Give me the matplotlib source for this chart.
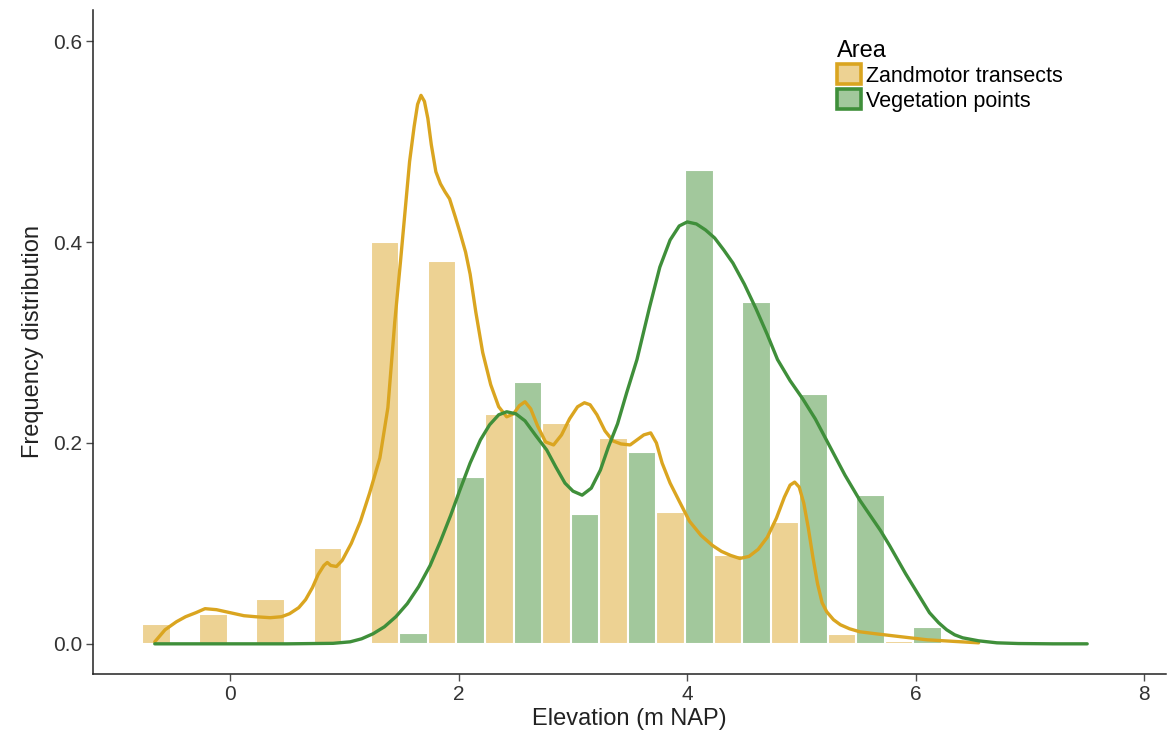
import matplotlib
matplotlib.use("Agg")
import matplotlib.pyplot as plt
from matplotlib.patches import Patch
import numpy as np

plt.rcParams['font.family'] = ['Liberation Sans', 'DejaVu Sans']

# histogram bins (binwidth 0.5), bar pairs dodged within each bin
bin_centers = [-0.52 + 0.5 * k for k in range(14)]
zand_freq = [0.020, 0.030, 0.045, 0.095, 0.400, 0.381, 0.229, 0.220, 0.205,
             0.131, 0.088, 0.121, 0.010, 0.003]
veg_freq = [0.0, 0.0, 0.0, 0.0, 0.011, 0.166, 0.261, 0.129, 0.191,
            0.472, 0.340, 0.249, 0.148, 0.017]

# density curves
zand_x = [-0.66, -0.57, -0.47, -0.39, -0.30, -0.22, -0.12, 0.0, 0.12, 0.22, 0.35,
          0.45, 0.52, 0.60, 0.66, 0.72, 0.77, 0.82, 0.85, 0.88, 0.93, 0.98,
          1.06, 1.14, 1.22, 1.31, 1.38, 1.44, 1.49, 1.53, 1.57, 1.61, 1.64,
          1.67, 1.70, 1.73, 1.76, 1.80, 1.84, 1.88, 1.92, 1.97, 2.01, 2.06,
          2.10, 2.15, 2.21, 2.28, 2.35, 2.42, 2.48, 2.53, 2.58, 2.63, 2.69, 2.76,
          2.83, 2.90, 2.97, 3.04, 3.10, 3.15, 3.21, 3.28, 3.35, 3.42, 3.50,
          3.56, 3.62, 3.68, 3.73, 3.78, 3.85, 3.93, 4.02, 4.12, 4.22, 4.30,
          4.38, 4.46, 4.54, 4.62, 4.70, 4.78, 4.85, 4.90, 4.94, 4.98, 5.02,
          5.06, 5.10, 5.14, 5.18, 5.22, 5.28, 5.34, 5.42, 5.51, 5.65, 5.80,
          5.95, 6.10, 6.25, 6.40, 6.55]
zand_y = [0.002, 0.014, 0.022, 0.027, 0.031, 0.035, 0.034, 0.031, 0.028, 0.027, 0.026,
          0.027, 0.030, 0.036, 0.044, 0.056, 0.069, 0.078, 0.081, 0.078, 0.077, 0.083,
          0.100, 0.122, 0.150, 0.185, 0.235, 0.320, 0.380, 0.430, 0.480, 0.515, 0.537,
          0.546, 0.540, 0.523, 0.497, 0.470, 0.458, 0.450, 0.443, 0.425, 0.410, 0.390,
          0.368, 0.330, 0.290, 0.258, 0.236, 0.226, 0.229, 0.237, 0.241, 0.234, 0.217, 0.201,
          0.198, 0.208, 0.224, 0.236, 0.240, 0.238, 0.228, 0.212, 0.202, 0.199, 0.198,
          0.203, 0.208, 0.210, 0.200, 0.180, 0.160, 0.142, 0.122, 0.108, 0.098, 0.092,
          0.088, 0.085, 0.087, 0.094, 0.106, 0.125, 0.146, 0.158, 0.161, 0.156, 0.140,
          0.115, 0.086, 0.060, 0.041, 0.032, 0.024, 0.019, 0.015, 0.012, 0.010, 0.008,
          0.006, 0.004, 0.003, 0.002, 0.001]

veg_x = [-0.66, 0.5, 0.9, 1.05, 1.15, 1.25, 1.35, 1.45, 1.55, 1.65, 1.75, 1.84,
         1.93, 2.01, 2.10, 2.19, 2.27, 2.35, 2.42, 2.50, 2.58, 2.67, 2.77, 2.85,
         2.93, 3.00, 3.08, 3.16, 3.24, 3.31, 3.39, 3.47, 3.56, 3.67, 3.76, 3.85,
         3.93, 4.00, 4.08, 4.16, 4.24, 4.32, 4.40, 4.50, 4.60, 4.70, 4.79, 4.90,
         5.01, 5.12, 5.25, 5.38, 5.51, 5.60, 5.69, 5.77, 5.84, 5.91, 5.98, 6.05,
         6.12, 6.20, 6.27, 6.34, 6.41, 6.55, 6.71, 6.90, 7.2, 7.5]
veg_y = [0.0, 0.0, 0.0005, 0.002, 0.005, 0.010, 0.017, 0.027, 0.040, 0.057, 0.078, 0.102,
         0.128, 0.153, 0.180, 0.203, 0.218, 0.228, 0.231, 0.229, 0.222, 0.208, 0.193, 0.176,
         0.160, 0.152, 0.148, 0.155, 0.173, 0.196, 0.219, 0.250, 0.283, 0.335, 0.375, 0.402,
         0.416, 0.420, 0.418, 0.412, 0.404, 0.392, 0.379, 0.358, 0.334, 0.308, 0.283, 0.262,
         0.244, 0.224, 0.196, 0.168, 0.143, 0.128, 0.113, 0.098, 0.084, 0.070, 0.057, 0.044,
         0.031, 0.021, 0.014, 0.009, 0.006, 0.003, 0.001, 0.0003, 0.0, 0.0]

zand_line = '#DAA520'
zand_fill = '#EDD293'
veg_line = '#3F8F3A'
veg_fill = '#A2C89C'

fig, ax = plt.subplots(figsize=(11.72, 7.39), dpi=100)
fig.subplots_adjust(left=0.0794, right=0.9949, top=0.9865, bottom=0.0880)

centers = np.array(bin_centers)
ax.bar(centers - 0.125, zand_freq, width=0.25, color=zand_fill, edgecolor='white', linewidth=1.5)
ax.bar(centers + 0.125, veg_freq, width=0.25, color=veg_fill, edgecolor='white', linewidth=1.5)

ax.plot(zand_x, zand_y, color=zand_line, lw=2.4, solid_capstyle='round', solid_joinstyle='round')
ax.plot(veg_x, veg_y, color=veg_line, lw=2.4, solid_capstyle='round', solid_joinstyle='round')

ax.set_xlim(-1.2, 8.19)
ax.set_ylim(-0.030, 0.631)
ax.set_xticks([0, 2, 4, 6, 8])
ax.set_yticks([0.0, 0.2, 0.4, 0.6])
ax.set_yticklabels(['0.0', '0.2', '0.4', '0.6'])
ax.tick_params(axis='both', labelsize=15, colors='#4D4D4D', length=5, width=1.0,
               labelcolor='#333333')
ax.tick_params(axis='x', pad=3)
ax.tick_params(axis='y', pad=3)
for s in ['top', 'right']:
    ax.spines[s].set_visible(False)
for s in ['left', 'bottom']:
    ax.spines[s].set_linewidth(1.1)
    ax.spines[s].set_color('#222222')

ax.set_xlabel('Elevation (m NAP)', fontsize=17, color='#222222', labelpad=3)
ax.set_ylabel('Frequency distribution', fontsize=17, color='#222222', labelpad=6)

handles = [Patch(facecolor=zand_fill, edgecolor=zand_line, linewidth=2.6, label='Zandmotor transects'),
           Patch(facecolor=veg_fill, edgecolor=veg_line, linewidth=2.6, label='Vegetation points')]
leg = ax.legend(handles=handles, title='Area', loc='upper left', bbox_to_anchor=(0.685, 0.968),
                frameon=False, fontsize=15.5, title_fontsize=17, handlelength=1.15,
                handleheight=1.05, handletextpad=0.2, labelspacing=0.12, borderaxespad=0)
leg._legend_box.align = 'left'

fig.savefig('out.png', dpi=100)
